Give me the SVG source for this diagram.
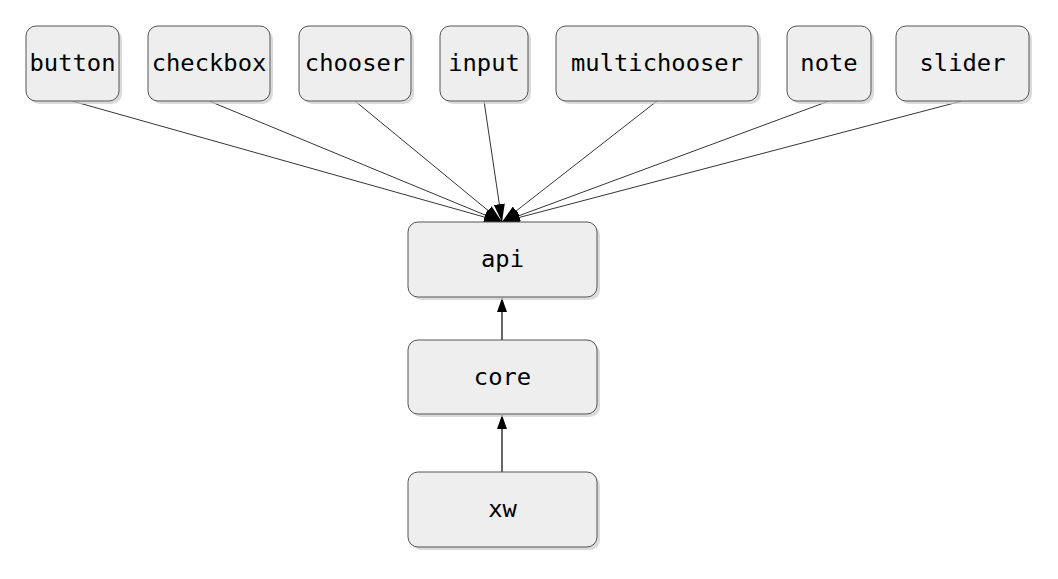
<svg xmlns="http://www.w3.org/2000/svg" width="1058" height="579" viewBox="0 0 1058 579">
<style>
.box{fill:#eeeeee;stroke:#555555;stroke-width:1}
.sh{fill:#cccccc;opacity:0.7}
.t{font-family:"DejaVu Sans Mono",monospace;font-size:23.8px;fill:#000;text-anchor:middle;dominant-baseline:central}
.e{stroke:#000;stroke-width:0.8;fill:none}
.v{stroke:#000;stroke-width:1.2;fill:none}
</style>
<defs>
<marker id="ah" viewBox="0 0 18 11" refX="18" refY="5.5" markerWidth="18" markerHeight="11" markerUnits="userSpaceOnUse" orient="auto">
<path d="M0,0 L18,5.5 L0,11 z" fill="#000"/>
</marker>
<marker id="av" viewBox="0 0 14 10" refX="14" refY="5" markerWidth="14" markerHeight="10" markerUnits="userSpaceOnUse" orient="auto">
<path d="M0,0 L14,5 L0,10 z" fill="#000"/>
</marker>
</defs>
<rect width="1058" height="579" fill="#fff"/>
<g id="connectors">
<line class="e" x1="72" y1="101" x2="502" y2="222" marker-end="url(#ah)"/>
<line class="e" x1="209" y1="101" x2="502" y2="222" marker-end="url(#ah)"/>
<line class="e" x1="355" y1="101" x2="502" y2="222" marker-end="url(#ah)"/>
<line class="e" x1="484" y1="101" x2="502" y2="222" marker-end="url(#ah)"/>
<line class="e" x1="657" y1="101" x2="502" y2="222" marker-end="url(#ah)"/>
<line class="e" x1="829" y1="101" x2="502" y2="222" marker-end="url(#ah)"/>
<line class="e" x1="962" y1="101" x2="502" y2="222" marker-end="url(#ah)"/>
<line class="v" x1="502" y1="340" x2="502" y2="298" marker-end="url(#av)"/>
<line class="v" x1="502" y1="472" x2="502" y2="415" marker-end="url(#av)"/>
</g>
<g id="button"><rect class="sh" x="29" y="29" width="93" height="75" rx="10"/><rect class="box" x="26" y="26" width="93" height="75" rx="10"/><text class="t" x="72.5" y="63">button</text></g>
<g id="checkbox"><rect class="sh" x="151" y="29" width="122" height="75" rx="10"/><rect class="box" x="148" y="26" width="122" height="75" rx="10"/><text class="t" x="209" y="63">checkbox</text></g>
<g id="chooser"><rect class="sh" x="302" y="29" width="112" height="75" rx="10"/><rect class="box" x="299" y="26" width="112" height="75" rx="10"/><text class="t" x="355" y="63">chooser</text></g>
<g id="input"><rect class="sh" x="443" y="29" width="88" height="75" rx="10"/><rect class="box" x="440" y="26" width="88" height="75" rx="10"/><text class="t" x="484" y="63">input</text></g>
<g id="multichooser"><rect class="sh" x="559" y="29" width="202" height="75" rx="10"/><rect class="box" x="556" y="26" width="202" height="75" rx="10"/><text class="t" x="657" y="63">multichooser</text></g>
<g id="note"><rect class="sh" x="790" y="29" width="84" height="75" rx="10"/><rect class="box" x="787" y="26" width="84" height="75" rx="10"/><text class="t" x="829" y="63">note</text></g>
<g id="slider"><rect class="sh" x="899" y="29" width="133" height="75" rx="10"/><rect class="box" x="896" y="26" width="133" height="75" rx="10"/><text class="t" x="962.5" y="63">slider</text></g>
<g id="api"><rect class="sh" x="411" y="225" width="189" height="75" rx="10"/><rect class="box" x="408" y="222" width="189" height="75" rx="10"/><text class="t" x="502.5" y="259">api</text></g>
<g id="core"><rect class="sh" x="411" y="343" width="189" height="74" rx="10"/><rect class="box" x="408" y="340" width="189" height="74" rx="10"/><text class="t" x="502.5" y="377">core</text></g>
<g id="xw"><rect class="sh" x="411" y="475" width="189" height="75" rx="10"/><rect class="box" x="408" y="472" width="189" height="75" rx="10"/><text class="t" x="502.5" y="509">xw</text></g>
</svg>
